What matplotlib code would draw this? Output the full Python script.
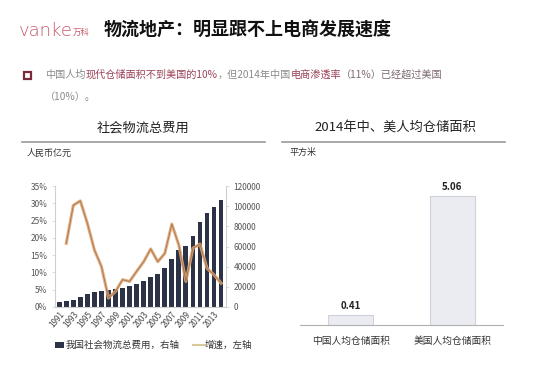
import matplotlib
matplotlib.use("Agg")
import matplotlib.pyplot as plt
from matplotlib.text import Annotation
import numpy as np

plt.rcParams['font.family'] = ['Noto Sans CJK SC', 'DejaVu Sans']

# ---------------- data ----------------
years = list(range(1991, 2015))
logistics_cost = [4600, 5600, 7200, 9500, 12500, 14500, 16000, 16800, 17800, 19000,
                  20400, 22400, 25300, 29600, 33200, 38200, 47700, 56600, 60500, 70700,
                  83900, 93700, 99000, 105900]
growth_years = list(range(1992, 2015))
growth_rate = [18.4, 29.4, 30.7, 24.2, 16.5, 11.7, 2.6, 4.5, 7.9, 7.4,
               10.3, 13.1, 16.8, 13.1, 15.5, 24.0, 17.9, 7.4, 17.0, 18.2,
               11.2, 9.3, 6.9]
xtick_years = list(range(1991, 2014, 2))
left_ticks = [0, 5, 10, 15, 20, 25, 30, 35]
right_ticks = [0, 20000, 40000, 60000, 80000, 100000, 120000]

storage_cats = ['中国人均仓储面积', '美国人均仓储面积']
storage_vals = [0.41, 5.06]

W, H = 550, 368
fig = plt.figure(figsize=(W / 100, H / 100), dpi=100)
fig.patch.set_facecolor('white')

def fx(x):
    return x / W

def fy(y):
    return 1 - y / H

# ---------------- header ----------------
fig.text(fx(19), fy(31), 'vanke', fontsize=13, color='#c55a6c', va='center', ha='left',
         family='DejaVu Sans', fontweight='light')
fig.text(fx(73), fy(32), '万科', fontsize=6, color='#c55a6c', va='center', ha='left')
fig.text(fx(104), fy(30), '物流地产：明显跟不上电商发展速度', fontsize=13, color='#111111',
         va='center', ha='left', fontweight='bold')

# bullet
fig.patches.append(plt.Rectangle((fx(24), fy(79)), fx(7), 7 / H, transform=fig.transFigure,
                                 fill=False, edgecolor='#7a2a3a', linewidth=1.6))
gray = '#8a8a8a'
maroon = '#9a4256'
pieces = [('中国人均', gray), ('现代仓储面积不到美国的10%', maroon), ('，但2014年中国', gray),
          ('电商渗透率', maroon), ('（11%）已经超过美国', '#7d6a70')]
prev = fig.text(fx(45), fy(75), pieces[0][0], fontsize=7.3, color=pieces[0][1],
                va='center', ha='left')
for s, c in pieces[1:]:
    a = Annotation(s, xy=(1, 0.5), xycoords=prev, xytext=(0, 0), textcoords='offset points',
                   fontsize=7.3, color=c, va='center', ha='left', annotation_clip=False)
    fig.add_artist(a)
    prev = a
fig.text(fx(45), fy(97), '（10%）。', fontsize=7.3, color=gray, va='center', ha='left')

# ---------------- left panel ----------------
fig.text(fx(143), fy(128), '社会物流总费用', fontsize=9.5, color='#222222', ha='center', va='center')
fig.add_artist(plt.Line2D([fx(22), fx(265)], [fy(142), fy(142)], color='#9a9a9a', lw=1.2))
fig.text(fx(27), fy(153), '人民币亿元', fontsize=6.5, color='#333333', ha='left', va='center')

axL = fig.add_axes([fx(55), fy(307), fx(226) - fx(55), (307 - 186) / H])
axR = axL.twinx()
axL.set_zorder(axR.get_zorder() + 1)
axL.patch.set_visible(False)

xi = np.arange(len(years))
axR.bar(xi, logistics_cost, width=0.68, color='#2c3347')
gx = np.array([years.index(y) for y in growth_years])
axL.plot(gx, growth_rate, color='#dba775', lw=2.2, alpha=0.9)
axL.plot(gx, growth_rate, color='#9a5a3a', lw=0.6, alpha=0.7)

axL.set_xlim(-0.6, len(years) - 0.3)
axL.set_ylim(0, 35)
axR.set_ylim(0, 120000)
axL.set_yticks(left_ticks)
axL.set_yticklabels([f'{v}%' for v in left_ticks])
axR.set_yticks(right_ticks)
axR.set_yticklabels([str(v) for v in right_ticks])
axL.set_xticks([years.index(y) for y in xtick_years])
axL.set_xticklabels([str(y) for y in xtick_years], rotation=50, ha='right',
                    rotation_mode='anchor', fontsize=5.8, color='#444444', style='italic')
for ax in (axL, axR):
    for sp in ax.spines.values():
        sp.set_visible(False)
    ax.tick_params(axis='y', labelsize=6, colors='#555555', length=2, width=0.5)
    ax.tick_params(axis='x', length=0, pad=2)
axL.spines['left'].set_visible(True)
axL.spines['left'].set_color('#cfcfcf')
axR.spines['right'].set_visible(True)
axR.spines['right'].set_color('#cfcfcf')
axL.spines['bottom'].set_visible(True)
axL.spines['bottom'].set_color('#cfcfcf')
axL.tick_params(axis='y', colors='#cfcfcf', labelcolor='#555555')
axR.tick_params(axis='y', colors='#cfcfcf', labelcolor='#555555')

# legend
fig.patches.append(plt.Rectangle((fx(55), fy(348)), fx(9), 6 / H, transform=fig.transFigure,
                                 facecolor='#2c3347', edgecolor='none'))
fig.text(fx(66), fy(345), '我国社会物流总费用，右轴', fontsize=6.8, color='#333333', ha='left', va='center')
fig.add_artist(plt.Line2D([fx(193), fx(205)], [fy(345), fy(345)], color='#d9c89a', lw=1.5))
fig.text(fx(205), fy(345), '增速，左轴', fontsize=6.8, color='#333333', ha='left', va='center')

# ---------------- right panel ----------------
fig.text(fx(395), fy(128), '2014年中、美人均仓储面积', fontsize=9.5, color='#222222', ha='center', va='center')
fig.add_artist(plt.Line2D([fx(282), fx(505)], [fy(142), fy(142)], color='#9a9a9a', lw=1.2))
fig.text(fx(289), fy(152), '平方米', fontsize=6.5, color='#333333', ha='left', va='center')

axB = fig.add_axes([fx(300), fy(325), fx(503) - fx(300), (325 - 172) / H])
bars = axB.bar(np.arange(len(storage_cats)), storage_vals, width=0.44, color='#eaecf2',
               edgecolor='#cfd2da', linewidth=0.8)
for i, v in enumerate(storage_vals):
    axB.text(i, v + 0.15, f'{v:.2f}', ha='center', va='bottom', fontsize=7, fontweight='bold',
             color='#222222')
axB.set_xlim(-0.5, 1.5)
axB.set_ylim(0, 6)
axB.set_yticks([])
axB.set_xticks(np.arange(len(storage_cats)))
axB.set_xticklabels(storage_cats, fontsize=7, color='#333333')
axB.tick_params(axis='x', length=0, pad=8)
for sp in axB.spines.values():
    sp.set_visible(False)
axB.spines['bottom'].set_visible(True)
axB.spines['bottom'].set_color('#b0b0b0')
axB.patch.set_visible(False)

fig.savefig('out.png', dpi=100)
